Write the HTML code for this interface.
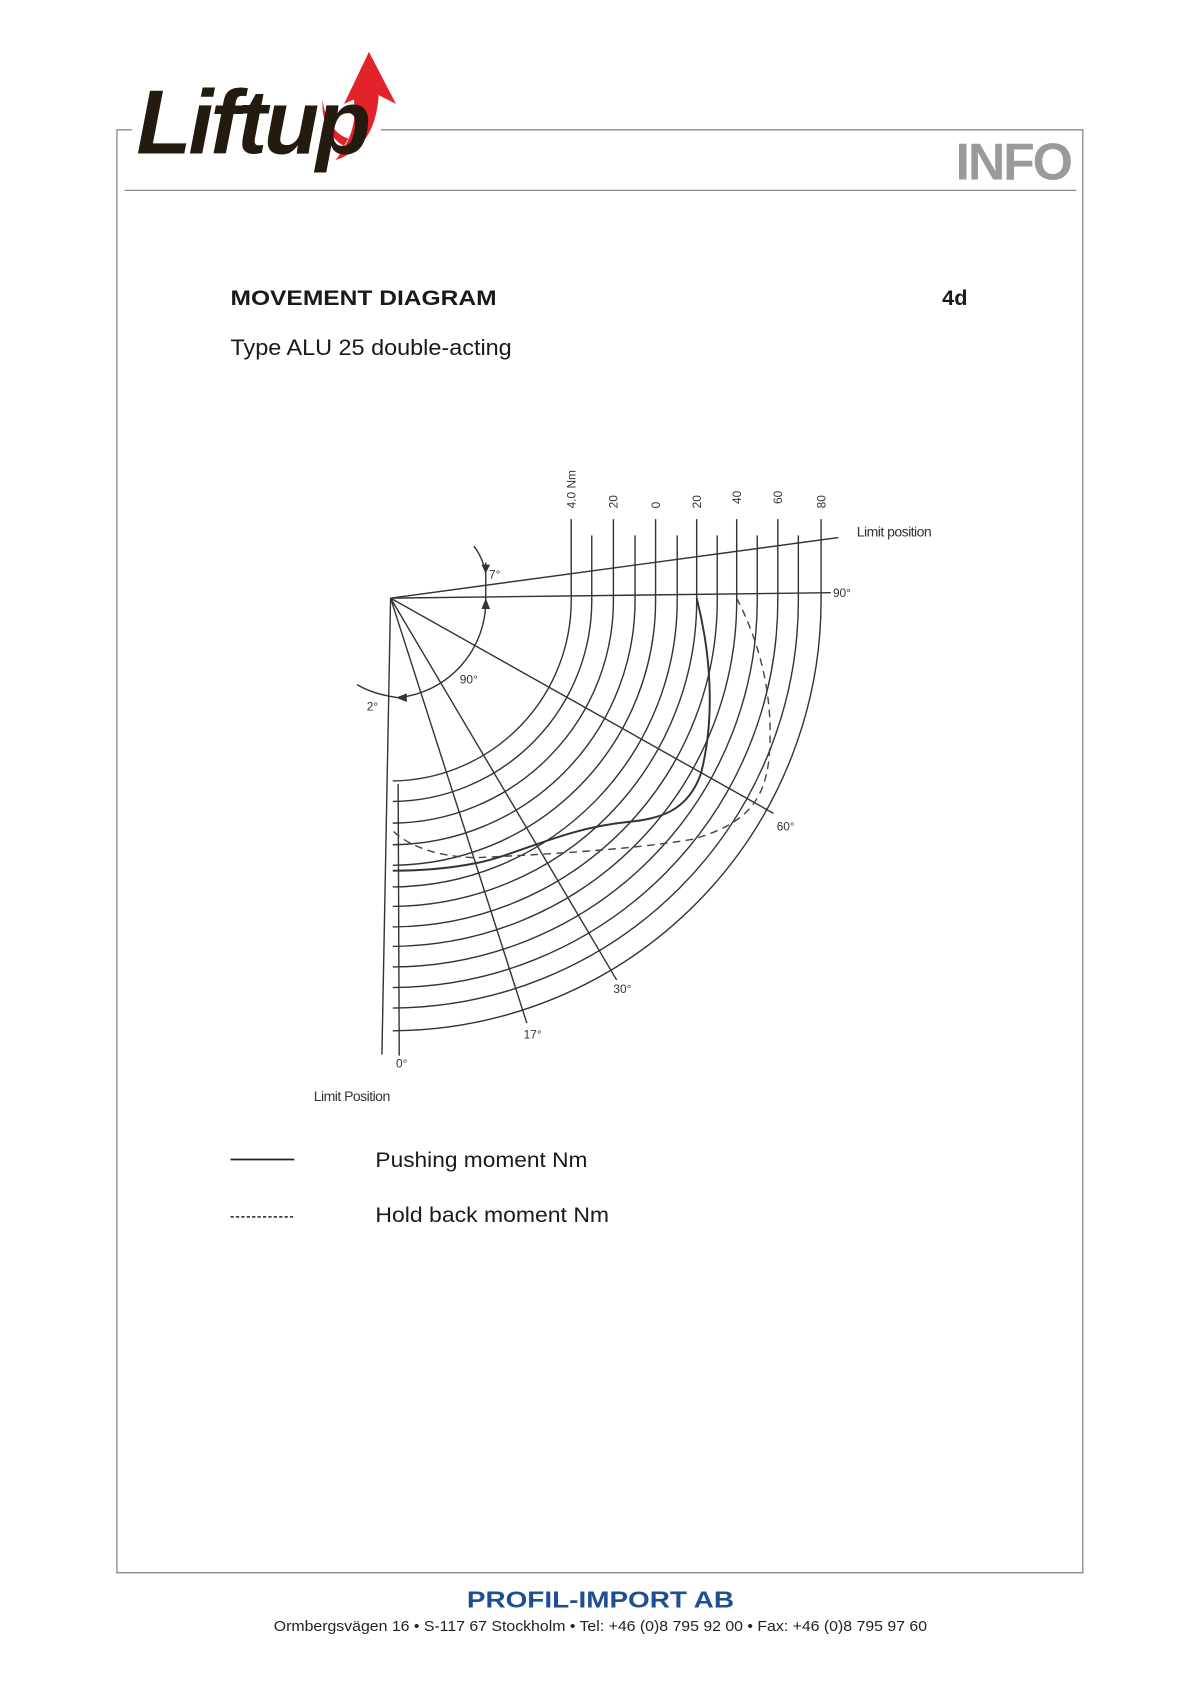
<!DOCTYPE html>
<html><head><meta charset="utf-8"><style>
html,body{margin:0;padding:0;background:#fff;}
svg{display:block;}
text{font-family:"Liberation Sans",sans-serif;}
</style></head><body>
<svg width="1190" height="1683" viewBox="0 0 1100 1556" xmlns="http://www.w3.org/2000/svg">
<!-- frame -->
<path d="M352 120 H1001 V1454 H108 V120 H122" fill="none" stroke="#8a8a8a" stroke-width="1.2"/>
<line x1="115" y1="176" x2="995" y2="176" stroke="#8a8a8a" stroke-width="1.2"/>
<rect x="122" y="100" width="230" height="40" fill="#fff"/>
<!-- logo -->
<path d="M341 48 L366 96 L350 88 C348 120 335 140 310 148 C325 130 330 110 327 92 L318 96 Z" fill="#e2232a"/>
<path d="M298 92 C300 110 310 125 322 128 L318 135 C305 128 297 112 298 92 Z" fill="#e2232a"/>
<text x="126" y="142" font-size="84" font-weight="bold" font-style="italic" fill="#231a10" letter-spacing="-3" textLength="214" lengthAdjust="spacingAndGlyphs">Liftup</text>
<text x="990" y="166" text-anchor="end" font-size="48" font-weight="bold" fill="#9a9a9a" letter-spacing="-2">INFO</text>
<!-- titles -->
<text x="213" y="282" font-size="20" font-weight="bold" fill="#1a1a1a" textLength="246" lengthAdjust="spacingAndGlyphs">MOVEMENT DIAGRAM</text>
<text x="871" y="282" font-size="20" font-weight="bold" fill="#1a1a1a">4d</text>
<text x="213" y="328" font-size="20.5" fill="#1a1a1a" textLength="260" lengthAdjust="spacingAndGlyphs">Type ALU 25 double-acting</text>
<!-- diagram -->
<g fill="none" stroke="#333" stroke-width="1.3">
<line x1="361" y1="553" x2="775" y2="497"/>
<line x1="361" y1="553" x2="768" y2="548"/>
<line x1="361" y1="553" x2="715" y2="752"/>
<line x1="361" y1="553" x2="570" y2="906"/>
<line x1="361" y1="553" x2="487" y2="946"/>
<line x1="361" y1="553" x2="353" y2="975"/>
<line x1="368" y1="725" x2="369" y2="976"/>
<path d="M528 480 V552 A167 167 0 0 1 363 722"/>
<path d="M547 495 V552 A186 186 0 0 1 363 741"/>
<path d="M567 480 V552 A206 206 0 0 1 363 761"/>
<path d="M587 495 V552 A226 226 0 0 1 363 781"/>
<path d="M606 480 V552 A245 245 0 0 1 363 800"/>
<path d="M626 495 V552 A265 265 0 0 1 363 820"/>
<path d="M644 480 V552 A283 283 0 0 1 363 838"/>
<path d="M663 495 V552 A302 302 0 0 1 363 857"/>
<path d="M681 480 V552 A320 320 0 0 1 363 875"/>
<path d="M700 495 V552 A339 339 0 0 1 363 894"/>
<path d="M719 480 V552 A358 358 0 0 1 363 913"/>
<path d="M738 495 V552 A377 377 0 0 1 363 932"/>
<path d="M759 480 V552 A398 398 0 0 1 363 953"/>
<path d="M449 520 V553 A90 90 0 0 1 368 645"/>
<path d="M330 633 Q345 642 368 645"/>
<path d="M438 505 Q446 515 449 530"/>
</g>
<path d="M449 553 l-4 10 h8 Z M366 645 l10 -4 v8 Z M449 530 l-4 -8 h8 Z" fill="#333"/>
<!-- curves -->
<path d="M644 553 C656 600 662 660 648 715 C636 750 610 757 580 760 C520 766 480 790 440 798 C410 804 385 805 363 805" fill="none" stroke="#333" stroke-width="1.8"/>
<path d="M681 553 C700 590 716 640 711 700 C707 740 690 762 640 776 C580 786 500 790 440 793 C400 792 375 780 363 768" fill="none" stroke="#444" stroke-width="1.3" stroke-dasharray="7,5"/>
<!-- labels -->
<g font-size="11" fill="#333">
<text transform="translate(532,470) rotate(-90)">4.0 Nm</text>
<text transform="translate(571,470) rotate(-90)">20</text>
<text transform="translate(610,470) rotate(-90)">0</text>
<text transform="translate(648,470) rotate(-90)">20</text>
<text transform="translate(685,466) rotate(-90)">40</text>
<text transform="translate(723,466) rotate(-90)">60</text>
<text transform="translate(763,470) rotate(-90)">80</text>
<text x="770" y="552">90°</text>
<text x="718" y="768">60°</text>
<text x="567" y="918">30°</text>
<text x="484" y="960">17°</text>
<text x="366" y="987">0°</text>
<text x="425" y="632">90°</text>
<text x="452" y="535">7°</text>
<text x="339" y="657">2°</text>
<text x="792" y="496" font-size="13" letter-spacing="-0.5">Limit position</text>
<text x="290" y="1018" font-size="13" letter-spacing="-0.5">Limit Position</text>
</g>
<!-- legend -->
<line x1="213" y1="1072" x2="272" y2="1072" stroke="#222" stroke-width="1.6"/>
<line x1="213" y1="1125" x2="272" y2="1125" stroke="#222" stroke-width="1.4" stroke-dasharray="3,2"/>
<text x="347" y="1079" font-size="20" fill="#1a1a1a" textLength="196" lengthAdjust="spacingAndGlyphs">Pushing moment Nm</text>
<text x="347" y="1130" font-size="20" fill="#1a1a1a" textLength="216" lengthAdjust="spacingAndGlyphs">Hold back moment Nm</text>
<!-- footer -->
<text x="555" y="1486" text-anchor="middle" font-size="21" font-weight="bold" fill="#1d4f91" textLength="247" lengthAdjust="spacingAndGlyphs">PROFIL-IMPORT AB</text>
<text x="555" y="1508" text-anchor="middle" font-size="13.5" fill="#222" textLength="604" lengthAdjust="spacingAndGlyphs">Ormbergsvägen 16 • S-117 67 Stockholm • Tel: +46 (0)8 795 92 00 • Fax: +46 (0)8 795 97 60</text>
</svg>
</body></html>
